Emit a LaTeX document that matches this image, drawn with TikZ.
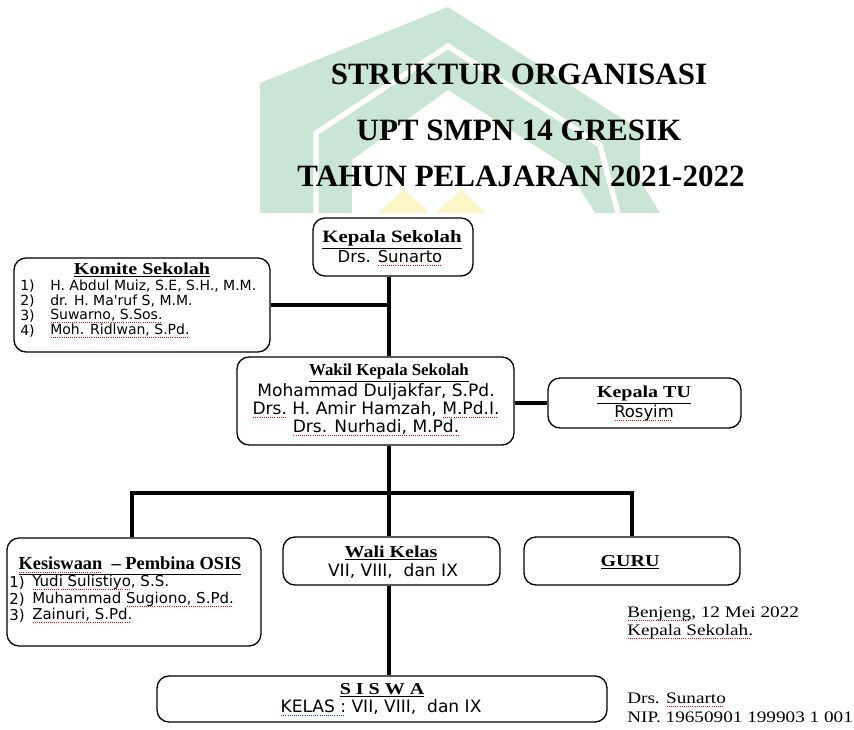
\documentclass[tikz,border=0pt]{standalone}
\usepackage{fontspec}
\setmainfont{Liberation Serif}
\newfontfamily\tserif{Liberation Serif}[FakeStretch=1.2]
\newfontfamily\vsans{DejaVu Sans}
\newcommand\fs[1]{\fontsize{#1}{#1}\selectfont}
\newsavebox\sqbox
\newcommand\sqc[2]{\sbox\sqbox{#2}\rlap{\color{#1}\leaders\hbox to 1.6pt{\hss\rule[-2.6pt]{0.7pt}{0.7pt}\hss}\hskip\wd\sqbox}\usebox\sqbox}
\newcommand\sq[1]{\sqc{red}{#1}}
\newcommand\sqb[1]{\sqc{blue!70!cyan}{#1}}
\newcommand\hd[2]{{\tserif\bfseries\fs{#1}\underline{#2}}}
\definecolor{wmgreen}{HTML}{C8E5D5}
\definecolor{wmyellow}{HTML}{FCF5C6}
\begin{document}
\begin{tikzpicture}[x=0.75pt,y=-0.75pt,
  box/.style={draw=black, line width=1pt, rounded corners=9pt, fill=white, inner sep=0pt},
  conn/.style={line width=3pt},
  txt/.style={inner sep=0pt, anchor=center},
  ttl/.style={inner sep=0pt, anchor=base, font=\bfseries\fs{23.25pt}},
  ltxt/.style={inner sep=0pt, anchor=west}]
\useasboundingbox (0,0) rectangle (854,730);
% watermark
\fill[wmgreen] (260,213) -- (260,83) -- (448,7) -- (640,130) -- (640,180) -- (660,213) -- cycle;
\fill[white] (352,213) -- (352,160) -- (448,90) -- (565,165) -- (595,213) -- cycle;
\draw[white, line width=4pt] (316,213) -- (316,133) -- (448,46) -- (600,145) -- (618,213);
\fill[wmyellow] (378,213) -- (404,190) -- (430,213) -- cycle;
\fill[wmyellow] (436,213) -- (461,190) -- (486,213) -- cycle;
% title
\node[ttl] (ttl1) at (519,85) {STRUKTUR ORGANISASI};
\node[ttl] (ttl2) at (519,141) {UPT SMPN 14 GRESIK};
\node[ttl] (ttl3) at (521,187) {TAHUN PELAJARAN 2021-2022};
% boxes
\node[box, minimum width=120pt, minimum height=43.5pt] (ks) at (393,247) {};
\node[box, minimum width=192pt, minimum height=70.5pt] (kom) at (142,305) {};
\node[box, minimum width=207.75pt, minimum height=66pt] (wk) at (375.5,401) {};
\node[box, minimum width=144.75pt, minimum height=37.5pt] (tu) at (644.5,403) {};
\node[box, minimum width=190.5pt, minimum height=81pt] (kes) at (134,592) {};
\node[box, minimum width=162.75pt, minimum height=36pt] (wali) at (391.5,561) {};
\node[box, minimum width=162pt, minimum height=36pt] (guru) at (632,561) {};
\node[box, minimum width=337.5pt, minimum height=34.5pt] (siswa) at (382,699) {};
% connectors
\coordinate (spine) at (389,0);
\coordinate (bar) at (0,493);
\coordinate (kesx) at (132,0);
\draw[conn] (ks.south -| spine) -- (wk.north -| spine);
\draw[conn] (kom.east) -- (kom.east -| spine);
\draw[conn] (tu.west) -- (tu.west -| wk.east);
\draw[conn] (wk.south -| spine) -- (bar -| spine);
\draw[conn] (kes.north -| kesx) -- (bar -| kesx) -- (bar -| guru.north) -- (guru.north);
\draw[conn] (wali.north -| spine) -- (bar -| spine);
\draw[conn] (wali.south -| spine) -- (siswa.north -| spine);
% Kepala Sekolah
\node[txt] (ks1) at (392,240) {\hd{13pt}{Kepala Sekolah}};
\node[txt] (ks2) at (390,258) {\vsans\fs{12.3pt}Drs. \sq{Sunarto}};
% Komite
\node[txt] (kom0) at (142,270) {\hd{12.5pt}{Komite Sekolah}};
\node[ltxt] (kn1) at (20,286) {\vsans\fs{10.5pt}1)};
\node[ltxt] (kn2) at (20,301) {\vsans\fs{10.5pt}2)};
\node[ltxt] (kn3) at (20,316) {\vsans\fs{10.5pt}3)};
\node[ltxt] (kn4) at (20,331) {\vsans\fs{10.5pt}4)};
\node[ltxt] (km1) at (50,286) {\vsans\fs{10.5pt}H. Abdul Muiz, S.E, S.H., M.M.};
\node[ltxt] (km2) at (50,301) {\vsans\fs{10.5pt}dr. H. Ma'ruf S, M.M.};
\node[ltxt] (km3) at (50,316) {\vsans\fs{10.5pt}\sq{Suwarno, S.Sos.}};
\node[ltxt] (km4) at (50,331) {\vsans\fs{10.5pt}\sq{Moh. Ridlwan, S.Pd.}};
% Wakil
\node[txt] (wk1) at (389,373) {\bfseries\fs{12.6pt}\underline{Wakil Kepala Sekolah}};
\node[txt] (wk2) at (376,392) {\vsans\fs{12.8pt}Mohammad Duljakfar, S.Pd.};
\node[txt] (wk3) at (376,410) {\vsans\fs{12.8pt}\sq{Drs.} H. Amir Hamzah, \sq{M.Pd.I.}};
\node[txt] (wk4) at (376,428) {\vsans\fs{12.8pt}\sq{Drs. Nurhadi, M.Pd.}};
% TU
\node[txt] (tu1) at (644,395) {\hd{12.5pt}{Kepala TU}};
\node[txt] (tu2) at (644,413) {\vsans\fs{12.3pt}\sq{Rosyim}};
% Kesiswaan
\node[txt] (kes0) at (130,566) {\bfseries\fs{13.8pt}\underline{\sq{Kesiswaan}\ \ – Pembina OSIS}};
\node[ltxt] (sn1) at (9,583) {\vsans\fs{11.25pt}1)};
\node[ltxt] (sn2) at (9,600) {\vsans\fs{11.25pt}2)};
\node[ltxt] (sn3) at (9,616) {\vsans\fs{11.25pt}3)};
\node[ltxt] (sm1) at (32,583) {\vsans\fs{11.25pt}\sq{Yudi Sulistiyo}, S.S.};
\node[ltxt] (sm2) at (32,600) {\vsans\fs{11.25pt}Muhammad \sq{Sugiono, S.Pd.}};
\node[ltxt] (sm3) at (32,616) {\vsans\fs{11.25pt}\sq{Zainuri, S.Pd.}};
% Wali
\node[txt] (wl1) at (391,553) {\hd{12.5pt}{Wali Kelas}};
\node[txt] (wl2) at (393,571) {\vsans\fs{12.8pt}VII, VIII, \ dan IX};
% Guru
\node[txt] (gr1) at (630,562) {\hd{12.5pt}{GURU}};
% Siswa
\node[txt] (sw1) at (382,690) {\hd{12.5pt}{S I S W A}};
\node[txt] (sw2) at (381,708) {\vsans\fs{12.8pt}\sqb{KELAS :} VII, VIII, \ dan IX};
% signature
\node[ltxt] (sg1) at (627,614) {\tserif\fs{12pt}\sq{Benjeng}, 12 Mei 2022};
\node[ltxt] (sg2) at (627,632) {\tserif\fs{12pt}\sq{Kepala Sekolah.}};
\node[ltxt] (sg3) at (627,700) {\tserif\fs{12pt}Drs. \sq{Sunarto}};
\node[ltxt] (sg4) at (627,717) {\tserif\fs{12pt}NIP. 19650901 199903 1 001};
\end{tikzpicture}
\end{document}
